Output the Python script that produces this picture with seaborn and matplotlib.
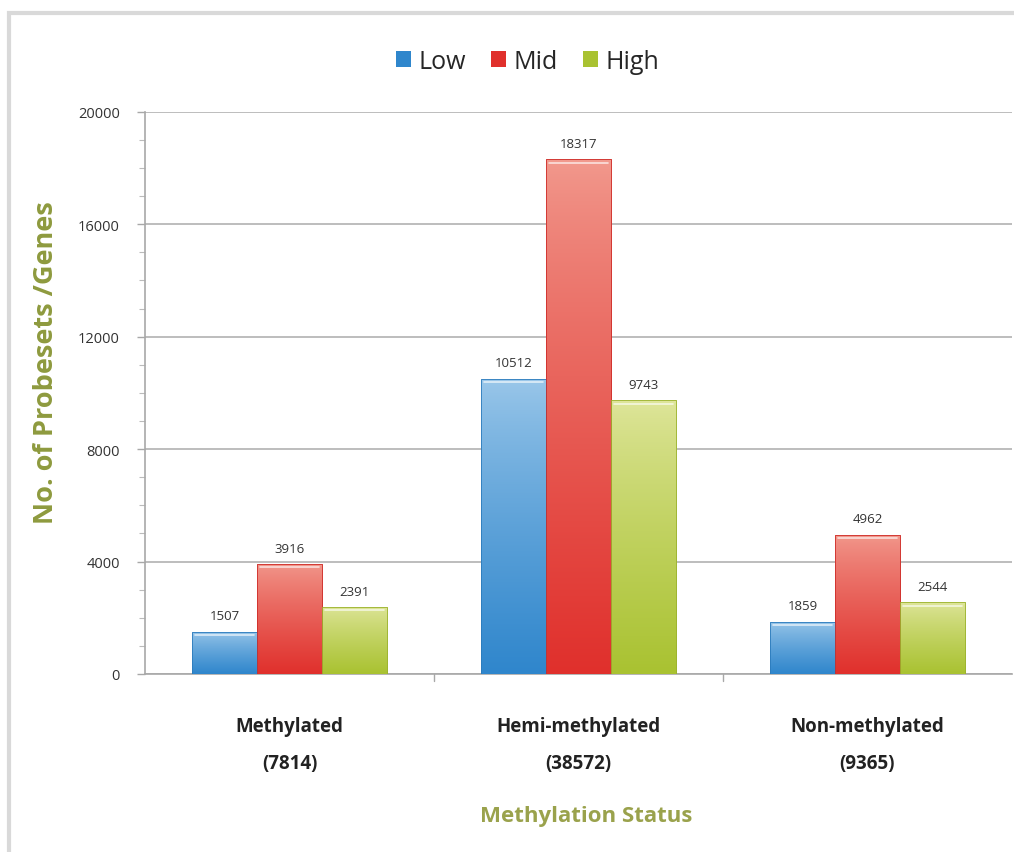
import numpy as np
import pandas as pd
import seaborn as sns
import matplotlib
matplotlib.use("Agg")
import matplotlib.pyplot as plt
from matplotlib.patches import Rectangle
from matplotlib.colors import to_rgb
from matplotlib.ticker import MultipleLocator

# ---- data -------------------------------------------------------------
categories = ["Methylated\n(7814)", "Hemi-methylated\n(38572)", "Non-methylated\n(9365)"]
levels = ["Low", "Mid", "High"]
low_counts = [1507, 10512, 1859]
mid_counts = [3916, 18317, 4962]
high_counts = [2391, 9743, 2544]
y_ticks = [0, 4000, 8000, 12000, 16000, 20000]

colors = {"Low": "#2f86cc", "Mid": "#e0302c", "High": "#a9c231"}
tops = {"Low": "#9cc8ea", "Mid": "#f29a8e", "High": "#dfe69c"}

df = pd.DataFrame({
    "status": categories * 3,
    "level": [l for l in levels for _ in categories],
    "count": low_counts + mid_counts + high_counts,
})

sns.set_theme(style="white")
plt.rcParams["font.family"] = ["Open Sans", "DejaVu Sans"]

fig = plt.figure(figsize=(10.14, 8.53), dpi=100)
ax = fig.add_axes([0.143, 0.2087, 0.855, 0.659])

sns.barplot(data=df, x="status", y="count", hue="level", order=categories,
            hue_order=levels, palette=colors, width=0.675, gap=0,
            errorbar=None, ax=ax, legend=False, zorder=3)

ax.set_xlim(-0.5, 2.5)
ax.set_ylim(0, 20000)

# vertical gradient fill on each bar, clipped to the bar shape
ncat = len(categories)
for i, patch in enumerate(ax.patches[:ncat * len(levels)]):
    lvl = levels[i // ncat]
    x0, w, h = patch.get_x(), patch.get_width(), patch.get_height()
    c_top = np.array(to_rgb(tops[lvl]))
    c_bot = np.array(to_rgb(colors[lvl]))
    t = np.linspace(0, 1, 256)[:, None] ** 0.8
    grad = (c_top * (1 - t) + c_bot * t)[:, None, :]
    grad = np.repeat(grad, 2, axis=1)
    patch.set_facecolor("none")
    patch.set_edgecolor(tuple(c_bot * 0.92))
    patch.set_linewidth(0.6)
    im = ax.imshow(grad, extent=[x0, x0 + w, 0, h], origin="upper",
                   aspect="auto", zorder=2.9, interpolation="bilinear")
    im.set_clip_path(patch)
    # thin highlight along the top edge
    ax.plot([x0 + w * 0.05, x0 + w * 0.95], [h - 120, h - 120], color="white",
            lw=1.2, alpha=0.7, zorder=3.5)
    ax.text(x0 + w / 2, h + 330, f"{int(h)}", ha="center", va="bottom",
            fontsize=9.5, color="#333333")

ax.set_xlim(-0.5, 2.5)
ax.set_ylim(0, 20000)

# grid and axes styling
ax.set_yticks(y_ticks)
ax.set_yticklabels([str(v) for v in y_ticks])
ax.yaxis.set_minor_locator(MultipleLocator(1000))
ax.yaxis.grid(True, which="major", color="#bdbdbd", linewidth=1.4, zorder=0)
ax.set_axisbelow(True)
for s in ["top", "right"]:
    ax.spines[s].set_visible(False)
for s in ["left", "bottom"]:
    ax.spines[s].set_color("#a8a8a8")
    ax.spines[s].set_linewidth(1.2)
ax.tick_params(axis="y", which="major", left=True, length=6, width=1,
               color="#a8a8a8", labelsize=10.5, labelcolor="#333333", pad=12)
ax.tick_params(axis="y", which="minor", left=True, length=4, width=0.8, color="#bbbbbb")
ax.set_xticks(range(len(categories)))
ax.set_xticklabels(categories, fontsize=13.5, fontweight="bold", color="#222222",
                   linespacing=2.15)
ax.tick_params(axis="x", bottom=False, pad=24)
for xb in [0.5, 1.5]:
    ax.plot([xb, xb], [0, -250], color="#a8a8a8", lw=1, clip_on=False)

ax.set_xlabel("")
ax.set_ylabel("")
fig.text(0.578, 0.043, "Methylation Status", ha="center", va="center",
         fontsize=16, fontweight="bold", color="#9aa24c")
fig.text(0.045, 0.575, "No. of Probesets /Genes", ha="center", va="center",
         rotation=90, fontsize=19.5, fontweight="bold", color="#8e9a3e")

# legend at the top
handles = [Rectangle((0, 0), 1, 1, facecolor=colors[l], edgecolor="none") for l in levels]
fig.legend(handles, levels, loc="center", bbox_to_anchor=(0.52, 0.927), ncol=3,
           frameon=False, fontsize=18, handlelength=0.6, handleheight=0.6,
           handletextpad=0.3, columnspacing=1.0)

# light chart-area border
fig.patches.append(Rectangle((9 / 1014, -0.1), 1.2, 1 - 14 / 853 + 0.1,
                             transform=fig.transFigure, fill=False,
                             edgecolor="#d9d9d9", linewidth=3))

fig.savefig("out.png", dpi=100)
